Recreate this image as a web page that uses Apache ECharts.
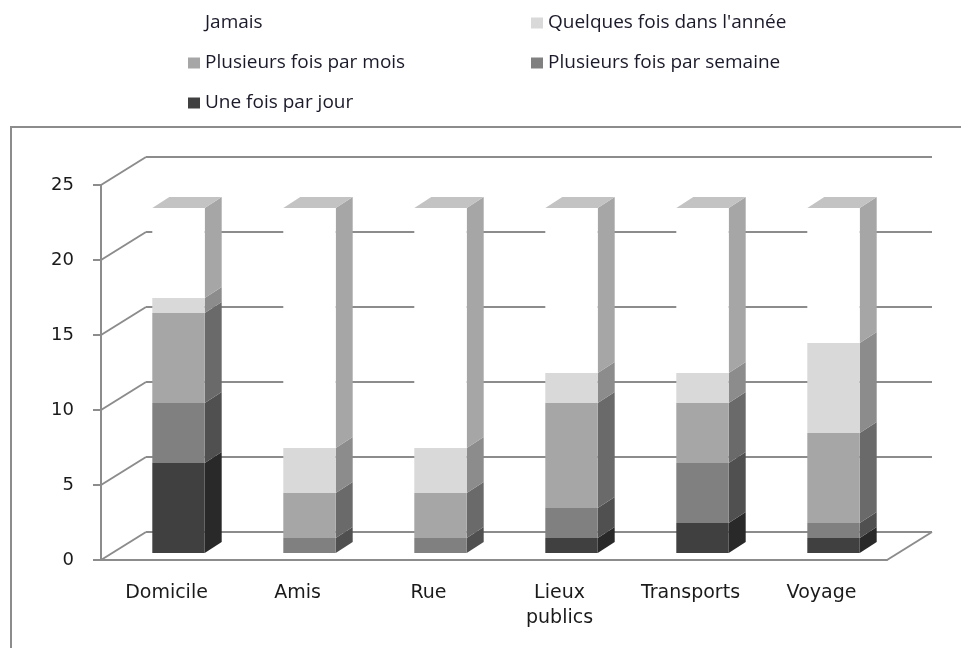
<!DOCTYPE html>
<html>
<head>
<meta charset="utf-8">
<script src="https://cdn.jsdelivr.net/npm/echarts@6/dist/echarts.min.js"></script>
<style>
  html, body { margin: 0; padding: 0; background: #fff; }
  #chart { width: 961px; height: 648px; }
</style>
</head>
<body>
<div id="chart"></div>
<script>
  const categories = ['Domicile', 'Amis', 'Rue', 'Lieux\npublics', 'Transports', 'Voyage'];
  const uneFoisParJour = [6, 0, 0, 1, 2, 1];
  const plusieursParSemaine = [4, 1, 1, 2, 4, 1];
  const plusieursParMois = [6, 3, 3, 7, 4, 6];
  const quelquesFoisAnnee = [1, 3, 3, 2, 2, 6];
  const jamais = [6, 16, 16, 11, 11, 9];
  const yTicks = [0, 5, 10, 15, 20, 25];

  // stacked from the bottom up
  const layers = [
    { name: 'Une fois par jour', values: uneFoisParJour, front: '#404040', side: '#292929', top: '#333333' },
    { name: 'Plusieurs fois par semaine', values: plusieursParSemaine, front: '#808080', side: '#505050', top: '#666666' },
    { name: 'Plusieurs fois par mois', values: plusieursParMois, front: '#a6a6a6', side: '#6a6a6a', top: '#8a8a8a' },
    { name: "Quelques fois dans l'année", values: quelquesFoisAnnee, front: '#d9d9d9', side: '#8c8c8c', top: '#b0b0b0' },
    { name: 'Jamais', values: jamais, front: '#ffffff', side: '#a6a6a6', top: '#c3c3c3' },
  ];

  const totals = categories.map((c, i) => layers.reduce((s, l) => s + l.values[i], 0));
  const lineColor = '#8c8c8c';
  const depthX = 17;
  const depthY = -11;

  const renderBar = (layer) => function (params, api) {
    const cat = api.value(0);
    const lo = api.value(1);
    const hi = api.value(2);
    if (hi <= lo) return;
    const a = api.coord([cat, lo]);
    const b = api.coord([cat, hi]);
    const w = api.size([1, 0])[0] * 0.4;
    const x0 = a[0] + 12 - w / 2;
    const x1 = x0 + w;
    const yb = a[1] - 7;
    const yt = b[1] - 7;
    const children = [
      {
        type: 'polygon',
        shape: { points: [[x1, yb], [x1 + depthX, yb + depthY], [x1 + depthX, yt + depthY], [x1, yt]] },
        style: { fill: layer.side },
      },
      {
        type: 'rect',
        shape: { x: x0, y: yt, width: w, height: yb - yt },
        style: { fill: layer.front },
      },
    ];
    if (hi === totals[cat]) {
      children.push({
        type: 'polygon',
        shape: { points: [[x0, yt], [x0 + depthX, yt + depthY], [x1 + depthX, yt + depthY], [x1, yt]] },
        style: { fill: layer.top },
      });
    }
    return { type: 'group', children };
  };

  const renderWall = function (params, api) {
    const v = api.value(1);
    const p = api.coord([0, v]);
    const cs = params.coordSys;
    const children = [{
      type: 'line',
      shape: { x1: cs.x, y1: p[1], x2: cs.x + 45, y2: p[1] - 28 },
      style: { stroke: lineColor, lineWidth: 2 },
    }];
    if (v === 0) {
      children.push({
        type: 'line',
        shape: { x1: cs.x + cs.width, y1: p[1], x2: cs.x + cs.width + 45, y2: p[1] - 28 },
        style: { stroke: lineColor, lineWidth: 2 },
      });
    }
    return { type: 'group', children };
  };

  const barSeries = layers.map((layer, k) => {
    const data = categories.map((c, i) => {
      const base = layers.slice(0, k).reduce((s, l) => s + l.values[i], 0);
      return [i, base, base + layer.values[i]];
    });
    return {
      type: 'custom',
      name: layer.name,
      xAxisIndex: 0,
      yAxisIndex: 0,
      z: 5,
      itemStyle: { color: layer.front },
      encode: { x: 0, y: [1, 2] },
      renderItem: renderBar(layer),
      data,
    };
  });

  const legendText = { fontFamily: 'Open Sans', fontSize: 19, color: '#1a1a2a', lineHeight: 20 };
  const legendBase = {
    top: 13, padding: 0, orient: 'vertical', itemGap: 20, itemWidth: 12, itemHeight: 11,
    icon: 'rect', selectedMode: false, textStyle: legendText,
  };

  const chart = echarts.init(document.getElementById('chart'));
  chart.setOption({
    animation: false,
    backgroundColor: '#fff',
    legend: [
      { ...legendBase, left: 188, data: ['Jamais', 'Plusieurs fois par mois', 'Une fois par jour'] },
      { ...legendBase, left: 531, data: ["Quelques fois dans l'année", 'Plusieurs fois par semaine'] },
    ],
    graphic: [{
      type: 'rect',
      shape: { x: 11, y: 127, width: 1000, height: 600 },
      style: { fill: 'none', stroke: lineColor, lineWidth: 2 },
    }],
    grid: [
      { left: 101, top: 185, width: 786, height: 375 },
      { left: 146, top: 157, width: 786, height: 375 },
    ],
    xAxis: [
      {
        type: 'category', gridIndex: 0, data: categories,
        axisLine: { lineStyle: { color: lineColor, width: 2 } },
        axisTick: { length: 6, lineStyle: { color: lineColor, width: 2 } },
        axisLabel: { margin: 21, fontFamily: 'DejaVu Sans', fontSize: 19, color: '#1a1a1a', lineHeight: 25, interval: 0 },
      },
      { type: 'category', gridIndex: 1, data: categories, show: false },
    ],
    yAxis: [
      {
        type: 'value', gridIndex: 0, min: 0, max: 25, interval: 5,
        axisLine: { show: true, lineStyle: { color: lineColor, width: 2 } },
        axisTick: { show: true, length: 8, lineStyle: { color: lineColor, width: 2 } },
        axisLabel: { margin: 27, fontFamily: 'DejaVu Sans', fontSize: 18, color: '#1a1a1a' },
        splitLine: { show: false },
      },
      {
        type: 'value', gridIndex: 1, min: 0, max: 25, interval: 5,
        axisLine: { show: false }, axisTick: { show: false }, axisLabel: { show: false },
        splitLine: { show: true, lineStyle: { color: lineColor, width: 2 } },
      },
    ],
    series: [
      {
        type: 'custom',
        xAxisIndex: 0,
        yAxisIndex: 0,
        z: 1,
        silent: true,
        encode: { x: 0, y: 1 },
        renderItem: renderWall,
        data: yTicks.map((v) => [0, v]),
      },
      ...barSeries,
    ],
  });
</script>
</body>
</html>
